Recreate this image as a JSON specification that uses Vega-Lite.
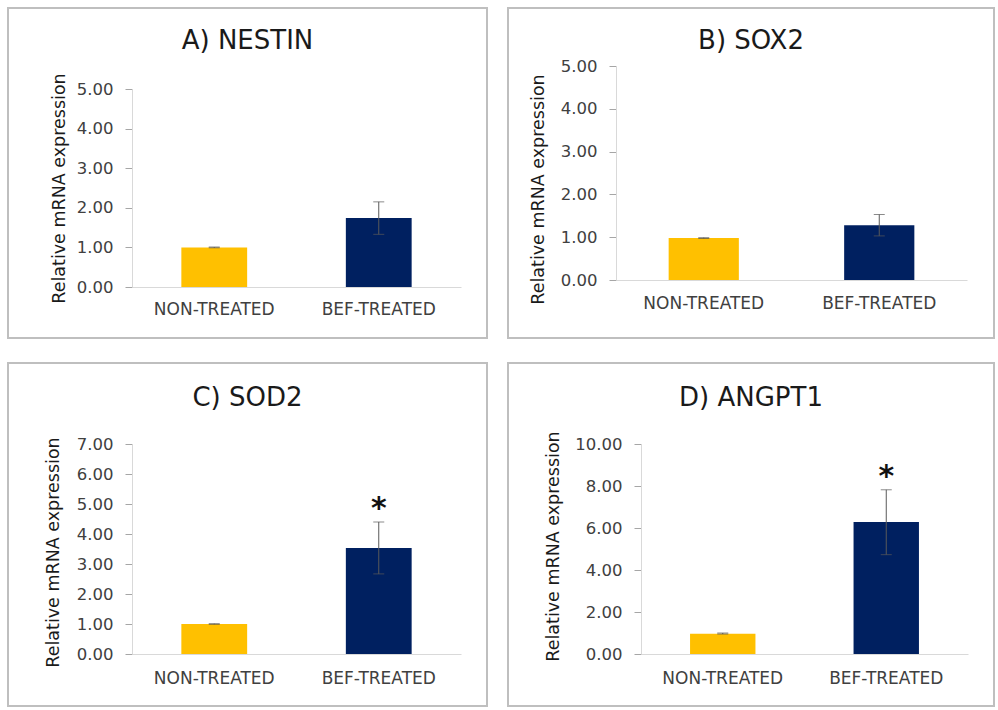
{
  "$schema": "https://vega.github.io/schema/vega-lite/v6.json",
  "padding": {"left": 7, "top": 7, "right": 0, "bottom": 0},
  "background": "white",
  "datasets": {
    "expr": [
      {"panel": "A", "group": "NON-TREATED", "value": 1.0, "lower": 0.99, "upper": 1.01, "sig": ""},
      {"panel": "A", "group": "BEF-TREATED", "value": 1.74, "lower": 1.33, "upper": 2.15, "sig": ""},
      {"panel": "B", "group": "NON-TREATED", "value": 0.98, "lower": 0.97, "upper": 0.99, "sig": ""},
      {"panel": "B", "group": "BEF-TREATED", "value": 1.28, "lower": 1.03, "upper": 1.53, "sig": ""},
      {"panel": "C", "group": "NON-TREATED", "value": 1.0, "lower": 0.99, "upper": 1.01, "sig": ""},
      {"panel": "C", "group": "BEF-TREATED", "value": 3.53, "lower": 2.67, "upper": 4.4, "sig": "*"},
      {"panel": "D", "group": "NON-TREATED", "value": 0.97, "lower": 0.95, "upper": 1.0, "sig": ""},
      {"panel": "D", "group": "BEF-TREATED", "value": 6.28, "lower": 4.73, "upper": 7.82, "sig": "*"}
    ]
  },
  "spacing": 23,
  "vconcat": [
    {
      "spacing": 19,
      "hconcat": [
        {
          "width": 479, "height": 330,
          "data": {"name": "expr"},
          "title": {"text": "A) NESTIN", "offset": -46},
          "transform": [{"filter": "datum.panel === 'A'"}],
          "encoding": {
            "x": {"field": "group", "type": "nominal", "sort": ["NON-TREATED", "BEF-TREATED"],
              "scale": {"range": [124, 453], "paddingInner": 0.6, "paddingOuter": 0.3},
              "axis": {"offset": -51, "title": null, "labelAngle": 0, "ticks": false, "labelPadding": 14}}
          },
          "layer": [
            {"mark": {"type": "bar"},
             "encoding": {
               "y": {"field": "value", "type": "quantitative",
                 "scale": {"domain": [0, 5], "range": [279, 81], "nice": false},
                 "axis": {"offset": -124, "values": [0, 1, 2, 3, 4, 5], "format": ".2f", "title": "Relative mRNA expression", "titleX": -73, "titleY": 180}},
               "color": {"field": "group", "type": "nominal", "scale": {"domain": ["NON-TREATED", "BEF-TREATED"], "range": ["#FFC000", "#002060"]}, "legend": null}}},
            {"mark": {"type": "rule", "color": "#595959", "strokeWidth": 1},
             "encoding": {"y": {"field": "lower", "type": "quantitative"}, "y2": {"field": "upper"}}},
            {"mark": {"type": "tick", "color": "#595959", "size": 11, "thickness": 1},
             "encoding": {"y": {"field": "lower", "type": "quantitative"}}},
            {"mark": {"type": "tick", "color": "#595959", "size": 11, "thickness": 1},
             "encoding": {"y": {"field": "upper", "type": "quantitative"}}}
          ]
        },
        {
          "width": 486, "height": 330,
          "data": {"name": "expr"},
          "title": {"text": "B) SOX2", "offset": -46},
          "transform": [{"filter": "datum.panel === 'B'"}],
          "encoding": {
            "x": {"field": "group", "type": "nominal", "sort": ["NON-TREATED", "BEF-TREATED"],
              "scale": {"range": [108, 459], "paddingInner": 0.6, "paddingOuter": 0.3},
              "axis": {"offset": -58, "title": null, "labelAngle": 0, "ticks": false, "labelPadding": 15}}
          },
          "layer": [
            {"mark": {"type": "bar"},
             "encoding": {
               "y": {"field": "value", "type": "quantitative",
                 "scale": {"domain": [0, 5], "range": [272, 58], "nice": false},
                 "axis": {"offset": -108, "values": [0, 1, 2, 3, 4, 5], "format": ".2f", "title": "Relative mRNA expression", "titleX": -78, "titleY": 181}},
               "color": {"field": "group", "type": "nominal", "scale": {"domain": ["NON-TREATED", "BEF-TREATED"], "range": ["#FFC000", "#002060"]}, "legend": null}}},
            {"mark": {"type": "rule", "color": "#595959", "strokeWidth": 1},
             "encoding": {"y": {"field": "lower", "type": "quantitative"}, "y2": {"field": "upper"}}},
            {"mark": {"type": "tick", "color": "#595959", "size": 11, "thickness": 1},
             "encoding": {"y": {"field": "lower", "type": "quantitative"}}},
            {"mark": {"type": "tick", "color": "#595959", "size": 11, "thickness": 1},
             "encoding": {"y": {"field": "upper", "type": "quantitative"}}}
          ]
        }
      ]
    },
    {
      "spacing": 19,
      "hconcat": [
        {
          "width": 479, "height": 343,
          "data": {"name": "expr"},
          "title": {"text": "C) SOD2", "offset": -48},
          "transform": [{"filter": "datum.panel === 'C'"}],
          "encoding": {
            "x": {"field": "group", "type": "nominal", "sort": ["NON-TREATED", "BEF-TREATED"],
              "scale": {"range": [124, 453], "paddingInner": 0.6, "paddingOuter": 0.3},
              "axis": {"offset": -52, "title": null, "labelAngle": 0, "ticks": false, "labelPadding": 16}}
          },
          "layer": [
            {"mark": {"type": "bar"},
             "encoding": {
               "y": {"field": "value", "type": "quantitative",
                 "scale": {"domain": [0, 7], "range": [291, 81], "nice": false},
                 "axis": {"offset": -124, "values": [0, 1, 2, 3, 4, 5, 6, 7], "format": ".2f", "title": "Relative mRNA expression", "titleX": -79, "titleY": 189}},
               "color": {"field": "group", "type": "nominal", "scale": {"domain": ["NON-TREATED", "BEF-TREATED"], "range": ["#FFC000", "#002060"]}, "legend": null}}},
            {"mark": {"type": "rule", "color": "#595959", "strokeWidth": 1},
             "encoding": {"y": {"field": "lower", "type": "quantitative"}, "y2": {"field": "upper"}}},
            {"mark": {"type": "tick", "color": "#595959", "size": 11, "thickness": 1},
             "encoding": {"y": {"field": "lower", "type": "quantitative"}}},
            {"mark": {"type": "tick", "color": "#595959", "size": 11, "thickness": 1},
             "encoding": {"y": {"field": "upper", "type": "quantitative"}}},
            {"mark": {"type": "text", "font": "DejaVu Sans", "fontSize": 30, "fontWeight": "bold", "color": "#111111", "baseline": "alphabetic", "dy": -4},
             "encoding": {"y": {"field": "upper", "type": "quantitative"}, "text": {"field": "sig"}}}
          ]
        },
        {
          "width": 486, "height": 343,
          "data": {"name": "expr"},
          "title": {"text": "D) ANGPT1", "offset": -48},
          "transform": [{"filter": "datum.panel === 'D'"}],
          "encoding": {
            "x": {"field": "group", "type": "nominal", "sort": ["NON-TREATED", "BEF-TREATED"],
              "scale": {"range": [133, 460], "paddingInner": 0.6, "paddingOuter": 0.3},
              "axis": {"offset": -52, "title": null, "labelAngle": 0, "ticks": false, "labelPadding": 16}}
          },
          "layer": [
            {"mark": {"type": "bar"},
             "encoding": {
               "y": {"field": "value", "type": "quantitative",
                 "scale": {"domain": [0, 10], "range": [291, 81], "nice": false},
                 "axis": {"offset": -133, "values": [0, 2, 4, 6, 8, 10], "format": ".2f", "title": "Relative mRNA expression", "titleX": -88, "titleY": 183}},
               "color": {"field": "group", "type": "nominal", "scale": {"domain": ["NON-TREATED", "BEF-TREATED"], "range": ["#FFC000", "#002060"]}, "legend": null}}},
            {"mark": {"type": "rule", "color": "#595959", "strokeWidth": 1},
             "encoding": {"y": {"field": "lower", "type": "quantitative"}, "y2": {"field": "upper"}}},
            {"mark": {"type": "tick", "color": "#595959", "size": 11, "thickness": 1},
             "encoding": {"y": {"field": "lower", "type": "quantitative"}}},
            {"mark": {"type": "tick", "color": "#595959", "size": 11, "thickness": 1},
             "encoding": {"y": {"field": "upper", "type": "quantitative"}}},
            {"mark": {"type": "text", "font": "DejaVu Sans", "fontSize": 30, "fontWeight": "bold", "color": "#111111", "baseline": "alphabetic", "dy": -4},
             "encoding": {"y": {"field": "upper", "type": "quantitative"}, "text": {"field": "sig"}}}
          ]
        }
      ]
    }
  ],
  "config": {
    "view": {"stroke": "#bfbfbf", "strokeWidth": 2},
    "title": {"font": "DejaVu Sans", "fontSize": 26, "fontWeight": "normal", "color": "#1a1a1a", "anchor": "middle"},
    "axisY": {"grid": false, "domainColor": "#d9d9d9", "tickColor": "#a6a6a6", "tickSize": 7, "labelFont": "DejaVu Sans", "labelFontSize": 16.5, "labelColor": "#404040", "labelPadding": 12, "titleFont": "DejaVu Sans", "titleFontSize": 17.5, "titleFontWeight": "normal", "titleColor": "#1a1a1a", "titleBaseline": "middle"},
    "axisX": {"grid": false, "domainColor": "#d9d9d9", "labelFont": "DejaVu Sans", "labelFontSize": 17, "labelColor": "#404040"}
  }
}
